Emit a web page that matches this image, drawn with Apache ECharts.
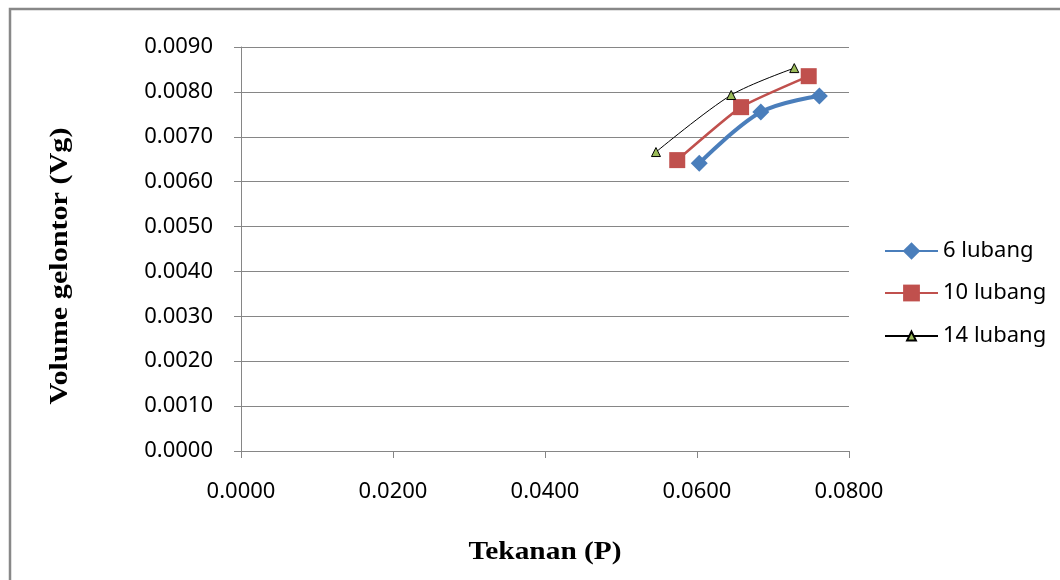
<!DOCTYPE html>
<html>
<head>
<meta charset="utf-8">
<script src="https://cdn.jsdelivr.net/npm/echarts@6/dist/echarts.min.js"></script>
<style>
html,body{margin:0;padding:0;background:#fff;}
#chart{width:1060px;height:580px;}
</style>
</head>
<body>
<div id="chart"></div>
<script>
const seriesNames = ['6 lubang', '10 lubang', '14 lubang'];
const p6 = [0.0603, 0.0684, 0.0761];
const v6 = [0.00641, 0.00755, 0.00791];
const p10 = [0.0574, 0.0658, 0.0747];
const v10 = [0.00648, 0.00766, 0.00835];
const p14 = [0.0546, 0.0645, 0.0728];
const v14 = [0.00666, 0.00793, 0.00853];
const xTitle = 'Tekanan (P)';
const yTitle = 'Volume gelontor (Vg)';

const pairs = (xs, ys) => xs.map((x, i) => [x, ys[i]]);
const chart = echarts.init(document.getElementById('chart'));
const axisGray = '#868686';
const labelFont = { fontFamily: 'Noto Sans', fontSize: 22, color: '#000' };

function legendFor(name, top, h) {
  return {
    data: [name], orient: 'vertical', left: 884, top: top, padding: 0,
    itemWidth: 53, itemHeight: h, itemGap: 0,
    textStyle: { fontFamily: 'Noto Sans', fontSize: 22, color: '#000' }
  };
}

chart.setOption({
  animation: false,
  backgroundColor: '#fff',
  grid: { left: 241, right: 211, top: 47, bottom: 129 },
  legend: [
    legendFor(seriesNames[0], 240, 22),
    legendFor(seriesNames[1], 282, 21),
    legendFor(seriesNames[2], 325, 11)
  ],
  xAxis: {
    type: 'value', min: 0, max: 0.08, interval: 0.02,
    axisLine: { show: true, lineStyle: { color: axisGray, width: 1 } },
    axisTick: { show: true, length: 7, lineStyle: { color: axisGray } },
    splitLine: { show: false },
    axisLabel: Object.assign({ margin: 30, formatter: v => v.toFixed(4) }, labelFont)
  },
  yAxis: {
    type: 'value', min: 0, max: 0.009, interval: 0.001,
    axisLine: { show: true, lineStyle: { color: axisGray, width: 1 } },
    axisTick: { show: true, length: 7, lineStyle: { color: axisGray } },
    splitLine: { show: true, lineStyle: { color: axisGray, width: 1 } },
    axisLabel: Object.assign({ margin: 28, formatter: v => v.toFixed(4) }, labelFont)
  },
  graphic: [
    { type: 'rect', shape: { x: 10, y: 9, width: 1200, height: 700 }, silent: true,
      style: { fill: 'none', stroke: '#888', lineWidth: 2.5 } },
    { type: 'text', x: 545, y: 552, scaleX: 1.13, silent: true,
      style: { text: xTitle, font: 'bold 26px "Liberation Serif"', fill: '#000', textAlign: 'center', textVerticalAlign: 'middle' } },
    { type: 'text', x: 60, y: 266, rotation: Math.PI / 2, scaleX: 1.16, silent: true,
      style: { text: yTitle, font: 'bold 26px "Liberation Serif"', fill: '#000', textAlign: 'center', textVerticalAlign: 'middle' } }
  ],
  series: [
    {
      name: seriesNames[0], type: 'line', data: pairs(p6, v6), smooth: 0.35,
      symbol: 'diamond', symbolSize: 17,
      lineStyle: { color: '#4A7EBB', width: 4 },
      itemStyle: { color: '#4A7EBB' }
    },
    {
      name: seriesNames[1], type: 'line', data: pairs(p10, v10), smooth: 0.15,
      symbol: 'rect', symbolSize: 16,
      lineStyle: { color: '#C0504D', width: 2.5 },
      itemStyle: { color: '#C0504D' }
    },
    {
      name: seriesNames[2], type: 'line', data: pairs(p14, v14), smooth: 0.3,
      symbol: 'triangle', symbolSize: 9,
      lineStyle: { color: '#000', width: 1 },
      itemStyle: { color: '#9BBB59', borderColor: '#000', borderWidth: 1 }
    }
  ]
});
</script>
</body>
</html>
